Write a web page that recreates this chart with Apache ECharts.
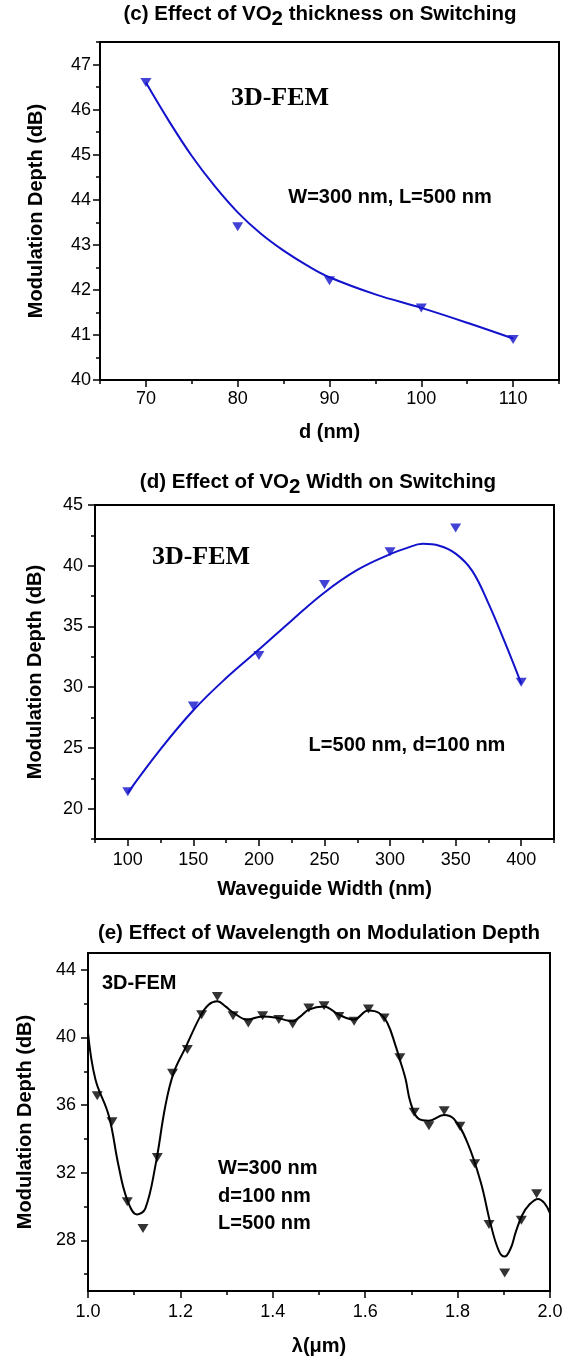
<!DOCTYPE html>
<html><head><meta charset="utf-8">
<script src="https://cdn.jsdelivr.net/npm/echarts@6/dist/echarts.min.js"></script>
<style>html,body{margin:0;padding:0;background:#fff}#c{width:570px;height:1360px}</style>
</head><body><div id="c"></div>
<script>
// ---------- (c) thickness ----------
const thickX = [70, 80, 90, 100, 110];
const thickY = [46.6, 43.4, 42.2, 41.6, 40.9];
const thickFitX = [70, 72.5, 75, 77.5, 80, 82.5, 85, 87.5, 90, 95, 100, 105, 110];
const thickFitY = [46.6, 45.75, 44.97, 44.3, 43.72, 43.25, 42.87, 42.55, 42.28, 41.9, 41.6, 41.27, 40.92];
const thickXMajor = [70, 80, 90, 100, 110];
const thickXMinor = [65, 75, 85, 95, 105, 115];
const thickYMajor = [40, 41, 42, 43, 44, 45, 46, 47];
const thickYMinor = [40.5, 41.5, 42.5, 43.5, 44.5, 45.5, 46.5, 47.5];

// ---------- (d) width ----------
const widthX = [100, 150, 200, 250, 300, 350, 400];
const widthY = [21.4, 28.45, 32.6, 38.45, 41.15, 43.1, 30.4];
const widthFitX = [100, 125, 150, 175, 200, 225, 250, 275, 300, 312.5, 325, 337.5, 350, 362.5, 375, 387.5, 400];
const widthFitY = [21.3, 24.9, 28.1, 30.75, 33.1, 35.5, 37.8, 39.65, 40.95, 41.45, 41.8, 41.65, 41.0, 39.6, 36.9, 33.7, 30.3];
const widthXMajor = [100, 150, 200, 250, 300, 350, 400];
const widthXMinor = [75, 125, 175, 225, 275, 325, 375, 425];
const widthYMajor = [20, 25, 30, 35, 40, 45];
const widthYMinor = [17.5, 22.5, 27.5, 32.5, 37.5, 42.5];

// ---------- (e) wavelength ----------
const waveX = [1.02, 1.052, 1.085, 1.119, 1.15, 1.183, 1.215, 1.246, 1.28, 1.314, 1.347, 1.378, 1.413, 1.443, 1.478,
  1.511, 1.543, 1.576, 1.607, 1.641, 1.675, 1.706, 1.738, 1.771, 1.805, 1.837, 1.868, 1.902, 1.938, 1.971];
const waveY = [36.55, 35.02, 30.28, 28.7, 32.9, 37.88, 39.29, 41.35, 42.43, 41.29, 40.86, 41.29, 41.06, 40.8, 41.75,
  41.88, 41.25, 40.96, 41.69, 41.16, 38.8, 35.57, 34.78, 35.66, 34.75, 32.53, 28.94, 26.06, 29.19, 30.76];
const waveFitX = [1.0, 1.016, 1.045, 1.066, 1.084, 1.106, 1.124, 1.146, 1.1675, 1.1855, 1.211, 1.243, 1.261, 1.28,
  1.2975, 1.3155, 1.3445, 1.377, 1.41, 1.442, 1.46, 1.478, 1.51, 1.543, 1.5755, 1.6065, 1.63, 1.648, 1.666, 1.677,
  1.6875, 1.698, 1.716, 1.738, 1.77, 1.792, 1.821, 1.85, 1.872, 1.89, 1.902, 1.915, 1.926, 1.94, 1.955, 1.974, 1.988, 2.0];
const waveFitY = [40.28, 37.53, 35.37, 32.43, 30.47, 29.53, 29.88, 32.43, 35.96, 37.92, 39.4, 41.25, 41.94, 42.14,
  41.84, 41.45, 41.06, 41.25, 41.16, 40.96, 41.25, 41.65, 41.84, 41.35, 41.06, 41.6, 41.45, 40.86, 39.49, 38.51,
  37.53, 36.16, 35.18, 35.08, 35.41, 35.18, 33.8, 31.45, 28.9, 27.33, 27.04, 27.53, 28.5, 29.5, 30.1, 30.45, 30.2, 29.6];
const waveXMajor = [1.0, 1.2, 1.4, 1.6, 1.8, 2.0];
const waveXMinor = [1.1, 1.3, 1.5, 1.7, 1.9];
const waveYMajor = [28, 32, 36, 40, 44];
const waveYMinor = [26, 30, 34, 38, 42];

const SANS = 'Liberation Sans';
const SERIF = 'Liberation Serif';
const BLUE = '#1212cc';
const zip = (a, b) => a.map((v, i) => [v, b[i]]);

function mainAxis(dim, gi, min, max, ticks, name, nameGap, margin, fmt) {
  return {
    type: 'value', gridIndex: gi, min: min, max: max,
    position: dim === 'x' ? 'bottom' : 'left',
    axisLine: { show: true, onZero: false, lineStyle: { color: '#000', width: 2 } },
    axisTick: { show: true, length: 7, customValues: ticks, lineStyle: { color: '#000', width: 1.5 } },
    axisLabel: { customValues: ticks, color: '#000', fontSize: 18, fontFamily: SANS, margin: margin,
      formatter: fmt || (v => String(v)) },
    splitLine: { show: false },
    name: name, nameLocation: 'middle', nameGap: nameGap,
    nameTextStyle: { color: '#000', fontSize: 20, fontWeight: 'bold', fontFamily: SANS }
  };
}
function minorAxis(dim, gi, min, max, ticks) {
  return {
    type: 'value', gridIndex: gi, min: min, max: max,
    position: dim === 'x' ? 'bottom' : 'left',
    axisLine: { show: false, onZero: false },
    axisTick: { show: true, length: 4, customValues: ticks, lineStyle: { color: '#000', width: 1.5 } },
    axisLabel: { show: false },
    splitLine: { show: false }
  };
}
function txt(x, y, text, size, family, align) {
  return { type: 'text', x: x, y: y, z: 100,
    style: { text: text, fill: '#000', font: 'bold ' + size + 'px "' + family + '"',
      textAlign: align || 'center', textVerticalAlign: 'middle' } };
}
function title(x, y, before, after) {
  return { type: 'text', x: x, y: y, z: 100,
    style: { text: '{a|' + before + '}{s|2}{a|' + after + '}', textAlign: 'center', textVerticalAlign: 'middle',
      rich: {
        a: { fontSize: 20.5, fontWeight: 'bold', fontFamily: SANS, color: '#000', lineHeight: 24 },
        s: { fontSize: 20.5, fontWeight: 'bold', fontFamily: SANS, color: '#000', lineHeight: 24, padding: [10, 0, 0, 0] }
      } } };
}

const chart = echarts.init(document.getElementById('c'), null, { renderer: 'canvas' });
const gridStyle = { show: true, borderColor: '#000', borderWidth: 2, backgroundColor: 'transparent' };
chart.setOption({
  backgroundColor: '#fff',
  animation: false,
  grid: [
    Object.assign({ left: 100, top: 42, width: 459, height: 338 }, gridStyle),
    Object.assign({ left: 95, top: 505, width: 459, height: 334 }, gridStyle),
    Object.assign({ left: 88, top: 953, width: 462, height: 338 }, gridStyle)
  ],
  xAxis: [
    mainAxis('x', 0, 65, 115, thickXMajor, 'd (nm)', 42, 10),
    minorAxis('x', 0, 65, 115, thickXMinor),
    mainAxis('x', 1, 75, 425, widthXMajor, 'Waveguide Width (nm)', 40, 12),
    minorAxis('x', 1, 75, 425, widthXMinor),
    mainAxis('x', 2, 1.0, 2.0, waveXMajor, 'λ(μm)', 45, 12, v => v.toFixed(1)),
    minorAxis('x', 2, 1.0, 2.0, waveXMinor)
  ],
  yAxis: [
    mainAxis('y', 0, 40, 47.5, thickYMajor, 'Modulation Depth (dB)', 54, 9),
    minorAxis('y', 0, 40, 47.5, thickYMinor),
    mainAxis('y', 1, 17.5, 45, widthYMajor, 'Modulation Depth (dB)', 50, 12),
    minorAxis('y', 1, 17.5, 45, widthYMinor),
    mainAxis('y', 2, 25, 45, waveYMajor, 'Modulation Depth (dB)', 53, 12),
    minorAxis('y', 2, 25, 45, waveYMinor)
  ],
  series: [
    { type: 'line', xAxisIndex: 0, yAxisIndex: 0, data: zip(thickFitX, thickFitY), smooth: 0.4, showSymbol: false,
      lineStyle: { color: BLUE, width: 2 } },
    { type: 'scatter', xAxisIndex: 0, yAxisIndex: 0, data: zip(thickX, thickY), symbol: 'triangle', symbolRotate: 180,
      symbolSize: [11, 9], itemStyle: { color: BLUE } },
    { type: 'line', xAxisIndex: 2, yAxisIndex: 2, data: zip(widthFitX, widthFitY), smooth: 0.4, showSymbol: false,
      lineStyle: { color: BLUE, width: 2 } },
    { type: 'scatter', xAxisIndex: 2, yAxisIndex: 2, data: zip(widthX, widthY), symbol: 'triangle', symbolRotate: 180,
      symbolSize: [11, 9], itemStyle: { color: BLUE } },
    { type: 'line', xAxisIndex: 4, yAxisIndex: 4, data: zip(waveFitX, waveFitY), smooth: 0.4, showSymbol: false,
      lineStyle: { color: '#000', width: 2 } },
    { type: 'scatter', xAxisIndex: 4, yAxisIndex: 4, data: zip(waveX, waveY), symbol: 'triangle', symbolRotate: 180,
      symbolSize: [11, 9], itemStyle: { color: '#000' } }
  ],
  graphic: [
    title(320, 14, '(c) Effect of VO', ' thickness on Switching'),
    title(318, 482, '(d) Effect of VO', ' Width on Switching'),
    { type: 'text', x: 319, y: 933, z: 100, style: { text: '(e) Effect of Wavelength on Modulation Depth',
      fill: '#000', font: 'bold 20.5px "Liberation Sans"', textAlign: 'center', textVerticalAlign: 'middle' } },
    txt(280, 98, '3D-FEM', 26, SERIF),
    txt(390, 197, 'W=300 nm, L=500 nm', 20, SANS),
    txt(201, 557, '3D-FEM', 26, SERIF),
    txt(407, 745, 'L=500 nm, d=100 nm', 20, SANS),
    txt(102, 983, '3D-FEM', 20, SANS, 'left'),
    txt(218, 1168, 'W=300 nm', 20, SANS, 'left'),
    txt(218, 1196, 'd=100 nm', 20, SANS, 'left'),
    txt(218, 1223, 'L=500 nm', 20, SANS, 'left')
  ]
});
</script></body></html>
